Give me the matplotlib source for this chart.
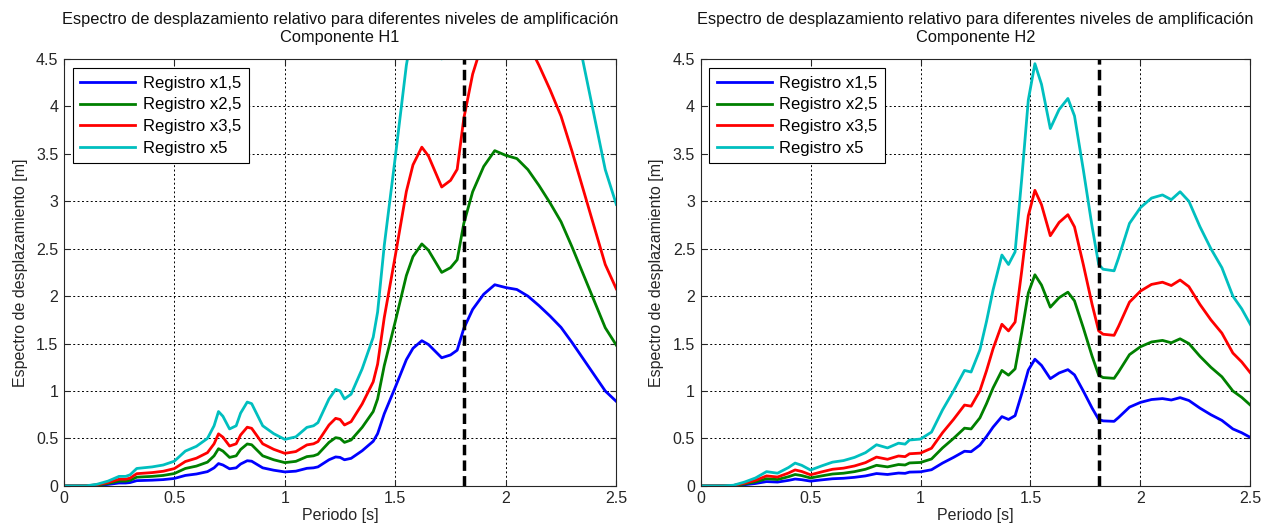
import matplotlib as mpl
mpl.use('Agg')
import matplotlib.pyplot as plt

plt.rcParams['font.family'] = ['Liberation Sans', 'DejaVu Sans']

# periodos y espectro del registro x1,5, componente H1
T_h1 = [0, 0.10, 0.15, 0.20, 0.25, 0.28, 0.30, 0.33, 0.40, 0.45, 0.50, 0.55, 0.60,
        0.65, 0.68, 0.70, 0.72, 0.75, 0.78, 0.80, 0.83, 0.85, 0.90, 0.95, 1.00,
        1.05, 1.10, 1.13, 1.15, 1.20, 1.23, 1.25, 1.27, 1.30, 1.35, 1.40, 1.42,
        1.45, 1.50, 1.55, 1.58, 1.62, 1.65, 1.71, 1.75, 1.78, 1.81, 1.85, 1.90,
        1.95, 2.00, 2.05, 2.10, 2.15, 2.20, 2.25, 2.30, 2.35, 2.40, 2.45, 2.50]
sd_h1 = [0, 0, 0.005, 0.015, 0.03, 0.03, 0.035, 0.055, 0.06, 0.066, 0.078, 0.11, 0.125,
         0.15, 0.19, 0.235, 0.22, 0.18, 0.19, 0.23, 0.265, 0.26, 0.19, 0.165, 0.147,
         0.155, 0.185, 0.19, 0.20, 0.275, 0.305, 0.30, 0.275, 0.29, 0.37, 0.47, 0.55,
         0.76, 1.04, 1.33, 1.45, 1.53, 1.49, 1.35, 1.38, 1.43, 1.66, 1.86, 2.02,
         2.12, 2.09, 2.07, 2.00, 1.90, 1.79, 1.67, 1.51, 1.34, 1.17, 1.00, 0.89]

# periodos y espectro del registro x1,5, componente H2
T_h2 = [0, 0.10, 0.15, 0.20, 0.25, 0.30, 0.35, 0.40, 0.43, 0.46, 0.50, 0.55, 0.60,
        0.65, 0.70, 0.75, 0.80, 0.85, 0.90, 0.93, 0.95, 1.00, 1.05, 1.10, 1.15,
        1.20, 1.23, 1.27, 1.30, 1.33, 1.37, 1.40, 1.43, 1.46, 1.49, 1.52, 1.55,
        1.59, 1.63, 1.67, 1.70, 1.74, 1.78, 1.81, 1.83, 1.88, 1.90, 1.95, 2.00,
        2.05, 2.10, 2.14, 2.18, 2.22, 2.27, 2.32, 2.37, 2.42, 2.46, 2.50]
sd_h2 = [0, 0, 0.002, 0.012, 0.025, 0.045, 0.04, 0.058, 0.072, 0.065, 0.05, 0.063, 0.075,
         0.08, 0.09, 0.105, 0.13, 0.12, 0.135, 0.132, 0.145, 0.148, 0.17, 0.24, 0.30,
         0.365, 0.36, 0.43, 0.52, 0.62, 0.73, 0.70, 0.74, 0.97, 1.22, 1.335, 1.27,
         1.13, 1.19, 1.225, 1.17, 1.00, 0.82, 0.70, 0.685, 0.68, 0.72, 0.83, 0.88,
         0.91, 0.92, 0.905, 0.93, 0.90, 0.82, 0.75, 0.69, 0.60, 0.56, 0.51]

factores = [1.5, 2.5, 3.5, 5]
etiquetas = ['Registro x1,5', 'Registro x2,5', 'Registro x3,5', 'Registro x5']
colores = [(0, 0, 1), (0, 0.5, 0), (1, 0, 0), (0, 0.75, 0.75)]
T_corte = 1.81

fig = plt.figure(figsize=(12.76, 5.31), dpi=100)
ax1 = fig.add_axes([0.050, 0.085, 0.433, 0.804])
ax2 = fig.add_axes([0.549, 0.085, 0.431, 0.804])

for ax, T, sd, comp in [(ax1, T_h1, sd_h1, 'H1'), (ax2, T_h2, sd_h2, 'H2')]:
    for f, lab, c in zip(factores, etiquetas, colores):
        ax.plot(T, [v * f / 1.5 for v in sd], color=c, lw=2, label=lab)
    ax.axvline(T_corte, color='k', ls='--', lw=2.5, dashes=(3, 1.5))
    ax.set_xlim(0, 2.5)
    ax.set_ylim(0, 4.5)
    ax.set_xticks([0, 0.5, 1, 1.5, 2, 2.5])
    ax.set_xticklabels(['0', '0.5', '1', '1.5', '2', '2.5'])
    ax.set_yticks([0, 0.5, 1, 1.5, 2, 2.5, 3, 3.5, 4, 4.5])
    ax.set_yticklabels(['0', '0.5', '1', '1.5', '2', '2.5', '3', '3.5', '4', '4.5'])
    ax.tick_params(direction='in', labelsize=11.5, length=4, top=True, right=True,
                   colors='#262626', pad=4)
    ax.grid(True, color='k', ls=(0, (2, 2.5)), lw=0.7)
    for s in ax.spines.values():
        s.set_color('#262626')
    ax.set_xlabel('Periodo [s]', fontsize=11.5, labelpad=1, color='#262626')
    ax.set_ylabel('Espectro de desplazamiento [m]', fontsize=11.5, labelpad=6,
                  color='#262626')
    ax.set_title('Espectro de desplazamiento relativo para diferentes niveles de amplificación\n'
                 'Componente ' + comp, fontsize=11.8, color='#111111', pad=12,
                 linespacing=1.3)
    leg = ax.legend(loc='upper left', fontsize=12, handlelength=3.3, handletextpad=0.45,
                    labelspacing=0.4, fancybox=False, edgecolor='k', framealpha=1,
                    borderpad=0.45, borderaxespad=0, bbox_to_anchor=(0.016, 0.978))
    leg.get_frame().set_linewidth(0.8)

fig.savefig('out.png', dpi=100)
